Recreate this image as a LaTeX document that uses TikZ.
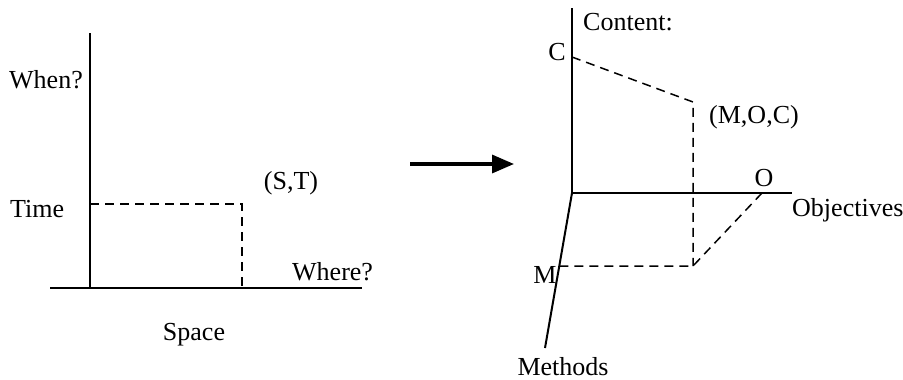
\documentclass[tikz,border=0pt]{standalone}
\usepackage{fontspec}
\setmainfont{Liberation Serif}
\usetikzlibrary{arrows.meta,calc}
\tikzset{
  axis/.style={line width=2pt},
  proj/.style={line width=1.5pt, dash pattern=on 9pt off 6pt},
  lbl/.style={inner sep=0pt, font=\fontsize{26}{30}\selectfont},
  bigarrow/.style={line width=3.4pt, -{Triangle[length=22pt,width=18pt]}}
}
\begin{document}
\begin{tikzpicture}[x=1pt,y=-1pt]
\useasboundingbox[fill=white] (0,0) rectangle (903,380);
% ---- left diagram ----
\coordinate (ltop) at (90,33);
\coordinate (lorig) at (90,288);
\coordinate (lxstart) at (50,288);
\coordinate (lxend) at (362,288);
\coordinate (tpt) at (90,204);
\coordinate (stc) at (242,204);
\coordinate (spt) at (242,288);
\draw[axis] (ltop) -- (lorig);
\draw[axis] (lxstart) -- (lxend);
\draw[proj] (tpt) -- (stc) -- (spt);
\node[lbl, anchor=west] (when) at (9,80) {When?};
\node[lbl, anchor=west] (time) at (10,209) {Time};
\node[lbl] (st) at (291,183) {(S,T)};
\node[lbl, anchor=west] (where) at (292,272) {Where?};
\node[lbl] (space) at (194,335) {Space};
% ---- arrow ----
\coordinate (aS) at (410,164);
\coordinate (aE) at (514,164);
\draw[bigarrow] (aS) -- (aE);
% ---- right diagram ----
\coordinate (rtop) at (572,8);
\coordinate (rorig) at (572,193);
\coordinate (rxend) at (792,193);
\coordinate (rmend) at (545,348);
\coordinate (cpt) at (572,57);
\coordinate (mocup) at (693,102);
\coordinate (mocdn) at (693,266);
\coordinate (mpt) at ($(rorig)!0.471!(rmend)$);
\coordinate (opt) at (762,193);
\draw[axis] (rtop) -- (rorig) -- (rxend);
\draw[axis] (rorig) -- (rmend);
\draw[proj] (cpt) -- (mocup) -- (mocdn);
\draw[proj] (mpt) -- (mocdn) -- (opt);
\node[lbl, anchor=west] (content) at (583,22) {Content:};
\node[lbl, anchor=east] (c) at (566,52) {C};
\node[lbl, anchor=west] (moc) at (709,117) {(M,O,C)};
\node[lbl] (o) at (764,178) {O};
\node[lbl, anchor=west] (obj) at (792,210) {Objectives};
\node[lbl] (m) at (545,275) {M};
\node[lbl] (meth) at (563,367) {Methods};
\end{tikzpicture}
\end{document}
